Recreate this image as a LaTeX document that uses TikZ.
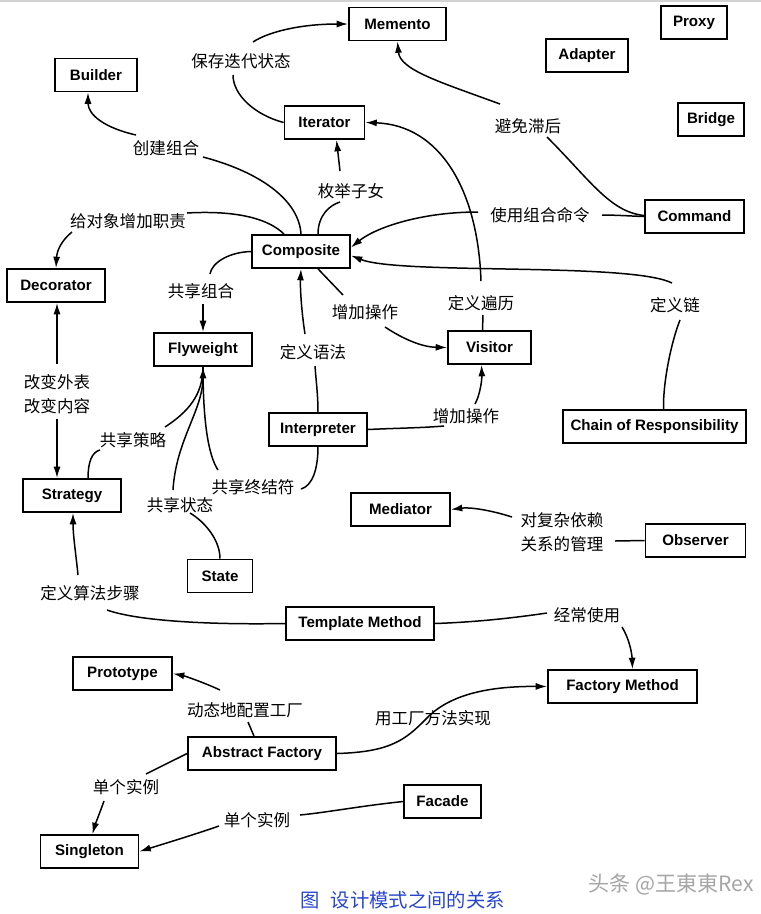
\documentclass[tikz,border=0pt]{standalone}
\usepackage{fontspec}
\setsansfont{Liberation Sans}
\newfontfamily\cjk{Noto Sans CJK SC}
\usetikzlibrary{arrows.meta,calc}
\definecolor{capblue}{RGB}{40,70,205}
\begin{document}
\begin{tikzpicture}[x=0.02cm,y=-0.02cm,
  box/.style={draw, line width=1pt, minimum height=0.66cm, inner sep=0pt,
    font=\sffamily\bfseries\fontsize{8.6}{10}\selectfont},
  w/.style={minimum width=#1*0.02cm},
  lab/.style={inner sep=1pt, font=\cjk\fontsize{9.4}{13.8}\selectfont, align=center},
  con/.style={line width=0.85pt},
  arr/.style={con, -{Latex[length=6.5pt,width=4pt]}}]
\useasboundingbox (0,0) rectangle (761,914);
\fill[white] (0,0) rectangle (761,914);
\draw[gray!35, line width=0.8pt] (0,1) -- (761,1);

% boxes
\node[box,w=97]  (mem)    at (397.5,24)  {Memento};
\node[box,w=66]  (proxy)  at (694,22.5)  {Proxy};
\node[box,w=82]  (adapt)  at (587,55.5)  {Adapter};
\node[box,w=82]  (bui)    at (96,75)     {Builder};
\node[box,w=66]  (bridge) at (711,119.5) {Bridge};
\node[box,w=80]  (iter)   at (324.5,122.5) {Iterator};
\node[box,w=99]  (cmd)    at (694.5,216.5) {Command};
\node[box,w=98]  (comp)   at (301,251.5) {Composite};
\node[box,w=98]  (dec)    at (56,285.5)  {Decorator};
\node[box,w=98]  (fly)    at (203,349.5) {Flyweight};
\node[box,w=83]  (vis)    at (489.5,347.5) {Visitor};
\node[box,w=98]  (interp) at (318,429.5) {Interpreter};
\node[box,w=183] (chain)  at (654.5,426.5) {Chain of Responsibility};
\node[box,w=98]  (strat)  at (72,495.5)  {Strategy};
\node[box,w=99]  (med)    at (400.5,509.5) {Mediator};
\node[box,w=100] (obs)    at (695.5,540.5) {Observer};
\node[box,w=65]  (state)  at (220,576)   {State};
\node[box,w=148] (tmpl)   at (360,623.5) {Template Method};
\node[box,w=99]  (proto)  at (122.5,673.5) {Prototype};
\node[box,w=149] (fm)     at (622.5,686.5) {Factory Method};
\node[box,w=148] (af)     at (262,753.5) {Abstract Factory};
\node[box,w=77]  (fac)    at (442.5,801.5) {Facade};
\node[box,w=98]  (sing)   at (89.5,851.5) {Singleton};

% labels
\node[lab] (lmem)   at (241,61)  {保存迭代状态};
\node[lab] (lbui)   at (166,148) {创建组合};
\node[lab] (lenum)  at (351,191) {枚举子女};
\node[lab] (ldec)   at (128,221) {给对象增加职责};
\node[lab] (lcmd)   at (540,215) {使用组合命令};
\node[lab] (lmem2)  at (528,126) {避免滞后};
\node[lab] (lfly)   at (201,291) {共享组合};
\node[lab] (ladd1)  at (365,312) {增加操作};
\node[lab] (ltrav)  at (481,303) {定义遍历};
\node[lab] (lchain) at (675,305) {定义链};
\node[lab] (lgram)  at (313,352) {定义语法};
\node[lab] (llook)  at (57,394)  {改变外表\\改变内容};
\node[lab] (ladd2)  at (466,416) {增加操作};
\node[lab] (lstrat) at (133,440) {共享策略};
\node[lab] (lterm)  at (253,487) {共享终结符};
\node[lab] (lstate) at (180,505) {共享状态};
\node[lab] (lalg)   at (90,593)  {定义算法步骤};
\node[lab] (lobs)   at (562,532) {对复杂依赖\\关系的管理};
\node[lab] (loft)   at (587,615) {经常使用};
\node[lab] (lproto) at (245,710) {动态地配置工厂};
\node[lab] (lsing1) at (126,787) {单个实例};
\node[lab] (lsing2) at (257,820) {单个实例};

% connectors
\draw[con] (iter.west) .. controls (255,115) and (233,95) .. ($(lmem)+(-8,14)$);
\draw[arr] ($(lmem)+(12,-19)$) .. controls (268,32) and (300,24) .. (mem.west);

\draw[con] (comp.north) .. controls (299,200) and (260,172) .. ($(lbui)+(37,9)$);
\draw[arr] ($(lbui)+(-30,-13)$) .. controls (105,128) and (88,115) .. ($(bui.south)+(-8,0)$);

\draw[con] ($(comp.north)+(17,0)$) .. controls (318,215) and (330,205) .. ($(lenum)+(-11,11)$);
\draw[arr] ($(lenum)+(-11,-20)$) -- ($(iter.south)+(12,0)$);

\draw[con] ($(comp.north)+(-17,0)$) .. controls (270,220) and (240,210) .. ($(ldec)+(59,-8)$);
\draw[arr] ($(ldec)+(-56,11)$) .. controls (62,240) and (57,250) .. (dec.north);

\draw[con] (cmd.west) .. controls (630,216) and (615,215) .. ($(lcmd)+(62,0)$);
\draw[arr] ($(lcmd)+(-62,-3)$) .. controls (420,212) and (375,228) .. ($(comp.east)+(0,-4)$);

\draw[con] ($(lmem2)+(19,11)$) .. controls (590,180) and (610,212) .. ($(cmd.west)+(0,-1)$);
\draw[arr] ($(lmem2)+(-28,-22)$) .. controls (440,82) and (400,70) .. (mem.south);

\draw[con] ($(vis.north)+(-7,0)$) -- ($(ltrav)+(2,12)$);
\draw[arr] ($(ltrav)+(0,-22)$) .. controls (478,190) and (440,125) .. (iter.east);

\draw[con] ($(chain.north)+(9,0)$) .. controls (663,380) and (672,340) .. ($(lchain)+(5,15)$);
\draw[arr] ($(lchain)+(-3,-22)$) .. controls (630,262) and (400,275) .. ($(comp.east)+(0,4)$);

\draw[con] ($(comp.south)+(17,0)$) -- ($(ladd1)+(-22,-17)$);
\draw[arr] ($(ladd1)+(20,15)$) .. controls (400,337) and (420,347) .. (vis.west);

\draw[con] (comp.west) .. controls (230,252) and (212,262) .. ($(lfly)+(9,-17)$);
\draw[arr] ($(lfly)+(2,13)$) -- (fly.north);

\draw[con] (interp.north) .. controls (318,395) and (316,380) .. ($(lgram)+(2,14)$);
\draw[arr] ($(lgram)+(-8,-18)$) .. controls (302,315) and (300,290) .. (comp.south);

\draw[con] (interp.east) .. controls (400,428) and (420,428) .. ($(ladd2)+(-22,10)$);
\draw[arr] ($(ladd2)+(9,-12)$) .. controls (480,395) and (482,380) .. ($(vis.south)+(-8,0)$);

\draw[con] ($(strat.north)+(16,0)$) .. controls (88,462) and (92,452) .. ($(lstrat)+(-33,10)$);
\draw[con] ($(lstrat)+(32,-13)$) .. controls (188,412) and (203,395) .. (fly.south);

\draw[con] (state.north) .. controls (220,540) and (205,522) .. ($(lstate)+(10,8)$);
\draw[arr] ($(lstate)+(-7,-15)$) .. controls (176,440) and (203,410) .. (fly.south);

\draw[con] (interp.south) .. controls (318,470) and (312,486) .. ($(lterm)+(48,2)$);
\draw[con] ($(lterm)+(-35,-17)$) .. controls (208,455) and (203,420) .. (fly.south);

\draw[arr] ($(llook)+(0,-30)$) -- ($(dec.south)+(1,0)$);
\draw[arr] ($(llook)+(0,25)$) -- ($(strat.north)+(-15,0)$);

\draw[con] (tmpl.west) .. controls (200,625) and (135,620) .. ($(lalg)+(17,17)$);
\draw[arr] ($(lalg)+(-12,-18)$) .. controls (76,555) and (73,535) .. ($(strat.south)+(1,0)$);

\draw[con] (tmpl.east) .. controls (480,622) and (520,617) .. ($(loft)+(-40,-2)$);
\draw[arr] ($(loft)+(35,12)$) .. controls (630,640) and (632,655) .. ($(fm.north)+(10,0)$);

\draw[con] (obs.west) -- ($(lobs)+(53,9)$);
\draw[arr] ($(lobs)+(-50,-15)$) .. controls (490,510) and (470,507) .. (med.east);

\draw[con] ($(af.north)+(-8,0)$) -- ($(lproto)+(3,12)$);
\draw[arr] ($(lproto)+(-25,-20)$) .. controls (205,683) and (185,676) .. (proto.east);

\coordinate (fmmid) at (425,720);
\draw[arr] (af.east) .. controls (390,752) and (405,740) .. (fmmid)
  .. controls (445,698) and (480,686) .. (fm.west);
\node[lab] (lfm) at (433,718) {用工厂方法实现};

\draw[con] (af.west) .. controls (170,762) and (158,768) .. ($(lsing1)+(20,-13)$);
\draw[arr] ($(lsing1)+(-22,14)$) .. controls (99,815) and (95,825) .. ($(sing.north)+(3,0)$);

\draw[con] (fac.west) .. controls (360,806) and (330,812) .. ($(lsing2)+(43,-5)$);
\draw[arr] ($(lsing2)+(-38,6)$) .. controls (190,836) and (160,845) .. (sing.east);

% caption and mark
\node[font=\cjk\fontsize{11}{13}\selectfont, text=capblue, inner sep=0pt] (cap) at (402.5,900) {图\hspace{0.6em}设计模式之间的关系};
\node[font=\cjk\fontsize{12}{14}\selectfont, text=gray!70, inner sep=0pt] (mark) at (671,884) {头条 @王東東Rex};
\end{tikzpicture}
\end{document}
